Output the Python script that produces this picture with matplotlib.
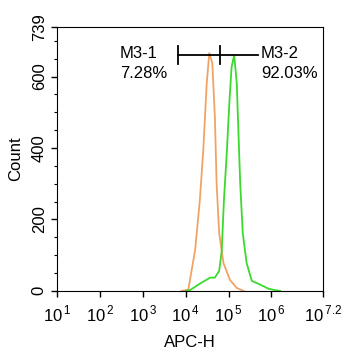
import numpy as np
import matplotlib.pyplot as plt

plt.rcParams['font.family'] = ['Liberation Sans', 'DejaVu Sans']
plt.rcParams['mathtext.fontset'] = 'custom'
plt.rcParams['mathtext.rm'] = 'Liberation Sans'

# histogram traces (log10 of APC-H, count)
ctrl_log = [3.90, 4.06, 4.22, 4.33, 4.41, 4.49, 4.55, 4.62, 4.68, 4.72, 4.78, 4.88, 5.03, 5.19, 5.35]
ctrl_count = [0, 3, 115, 255, 395, 582, 666, 638, 487, 302, 162, 78, 31, 8, 0]

samp_log = [4.00, 4.10, 4.33, 4.57, 4.68, 4.78, 4.84, 4.89, 4.96, 5.02, 5.07, 5.13, 5.19,
            5.23, 5.27, 5.33, 5.42, 5.54, 5.69, 5.93, 6.08, 6.20]
samp_count = [0, 2, 20, 37, 37, 56, 112, 252, 392, 532, 627, 660, 582,
              442, 302, 162, 78, 28, 20, 6, 2, 0]

# gates
gate1 = (10**3.82, 10**4.80)
gate2 = (10**4.80, 10**5.69)
gate_y = 660
gate_names = ['M3-1', 'M3-2']
gate_pct = ['7.28%', '92.03%']

fig = plt.figure(figsize=(3.48, 3.5), dpi=100)
ax = fig.add_axes([0.164, 0.169, 0.764, 0.754])

ax.plot(10**np.array(ctrl_log), ctrl_count, color='#F0A366', lw=1.3)
ax.plot(10**np.array(samp_log), samp_count, color='#3ADB2E', lw=1.3)

# gate bars
ax.plot(gate1, [gate_y, gate_y], color='black', lw=1.3)
ax.plot(gate2, [gate_y, gate_y], color='black', lw=1.3)
for gx in [gate1[0], gate1[1]]:
    ax.plot([gx, gx], [gate_y - 25, gate_y + 25], color='black', lw=1.3)

for xpos, name, pct in [(10**2.47, gate_names[0], gate_pct[0]),
                        (10**5.75, gate_names[1], gate_pct[1])]:
    ax.text(xpos, 664, name, fontsize=12, ha='left', va='center')
    ax.text(xpos, 608, pct, fontsize=12, ha='left', va='center')

ax.set_xscale('log')
ax.set_xlim(10**1, 10**7.2)
ax.set_ylim(0, 739)

xt = [1, 2, 3, 4, 5, 6, 7.2]
ax.set_xticks([10**v for v in xt])
ax.set_xticklabels(['10$^{\\,%s}$' % (str(v) if v != int(v) else str(int(v))) for v in xt],
                   fontsize=12)
ax.set_yticks([0, 200, 400, 600, 739])
ax.set_yticklabels(['0', '200', '400', '600', '739'], rotation=90, va='center', fontsize=12)
ax.set_yticks(np.arange(0, 739, 50), minor=True)
ax.tick_params(axis='both', which='major', length=4, width=1, direction='out')
ax.tick_params(axis='both', which='minor', length=2, width=0.8, direction='out')
ax.tick_params(axis='x', which='minor', labelbottom=False)
ax.tick_params(axis='x', pad=5)

ax.set_xlabel('APC-H', fontsize=12, labelpad=8)
ax.set_ylabel('Count', fontsize=12, labelpad=6)

fig.savefig('out.png', dpi=100)
